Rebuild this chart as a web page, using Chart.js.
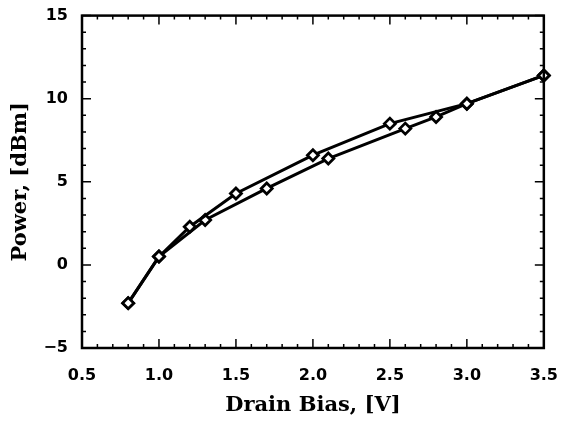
<!DOCTYPE html>
<html><head><meta charset="utf-8">
<script src="https://cdn.jsdelivr.net/npm/chart.js@4/dist/chart.umd.min.js"></script>
<style>html,body{margin:0;padding:0;background:#fff}#wrap{width:568px;height:424px}</style>
</head><body><div id="wrap"><canvas id="c" width="568" height="424"></canvas></div>
<script>
const biasA = [0.8, 1.0, 1.2, 1.5, 2.0, 2.5, 3.0, 3.5];
const powerA = [-2.3, 0.5, 2.3, 4.3, 6.6, 8.5, 9.7, 11.4];
const biasB = [0.8, 1.0, 1.3, 1.7, 2.1, 2.6, 2.8, 3.0, 3.5];
const powerB = [-2.3, 0.5, 2.7, 4.6, 6.4, 8.2, 8.9, 9.7, 11.4];
const xTicks = [0.5, 1.0, 1.5, 2.0, 2.5, 3.0, 3.5];
const yTicks = [-5, 0, 5, 10, 15];
const xTitle = 'Drain Bias, [V]';
const yTitle = 'Power, [dBm]';

const toPts = (xs, ys) => xs.map((x, i) => ({x, y: ys[i]}));

const inwardTicks = {
  id: 'inwardTicks',
  afterDatasetsDraw(chart) {
    const {ctx, chartArea: a, scales: {x, y}} = chart;
    ctx.save();
    ctx.strokeStyle = '#000';
    ctx.lineWidth = 1.5;
    ctx.beginPath();
    for (let i = 0; i <= 30; i++) {
      const v = 0.5 + i * 0.1;
      const px = x.getPixelForValue(v);
      const len = (i % 5 === 0) ? 9 : 4;
      ctx.moveTo(px, a.bottom); ctx.lineTo(px, a.bottom - len);
      ctx.moveTo(px, a.top); ctx.lineTo(px, a.top + len);
    }
    for (let i = 0; i <= 20; i++) {
      const v = -5 + i;
      const py = y.getPixelForValue(v);
      const len = (i % 5 === 0) ? 9 : 4;
      ctx.moveTo(a.left, py); ctx.lineTo(a.left + len, py);
      ctx.moveTo(a.right, py); ctx.lineTo(a.right - len, py);
    }
    ctx.stroke();
    ctx.lineWidth = 2.5;
    ctx.strokeRect(a.left, a.top, a.right - a.left, a.bottom - a.top);
    ctx.restore();
  }
};

const ds = (xs, ys) => ({
  data: toPts(xs, ys),
  borderColor: '#000',
  borderWidth: 3,
  pointStyle: 'rectRot',
  pointRadius: 5.5,
  pointBorderWidth: 2.8,
  pointBackgroundColor: '#fff',
  pointBorderColor: '#000',
  tension: 0,
  clip: false
});

new Chart(document.getElementById('c'), {
  type: 'line',
  data: { datasets: [ds(biasA, powerA), ds(biasB, powerB)] },
  plugins: [inwardTicks],
  options: {
    responsive: false,
    animation: false,
    layout: { padding: { left: 0, right: 13, top: 14, bottom: 0 } },
    plugins: { legend: { display: false }, tooltip: { enabled: false } },
    scales: {
      x: {
        type: 'linear', min: 0.5, max: 3.5,
        afterBuildTicks: s => { s.ticks = xTicks.map(v => ({value: v})); },
        afterFit: s => { s.height = 76; },
        grid: { display: false },
        border: { display: false },
        ticks: { color: '#000', padding: 10, font: { family: 'DejaVu Sans', weight: 'bold', size: 16 },
                 callback: v => v.toFixed(1) },
        title: { display: true, text: xTitle, color: '#000', padding: { top: 0, bottom: 6 },
                 font: { family: 'DejaVu Serif', weight: 'bold', size: 21 } }
      },
      y: {
        type: 'linear', min: -5, max: 15,
        afterBuildTicks: s => { s.ticks = yTicks.map(v => ({value: v})); },
        afterFit: s => { s.width = 82; },
        grid: { display: false },
        border: { display: false },
        ticks: { color: '#000', padding: 6, font: { family: 'DejaVu Sans', weight: 'bold', size: 16 },
                 callback: v => (v < 0 ? '\u2212' + Math.abs(v) : String(v)) },
        title: { display: true, text: yTitle, color: '#000', padding: { top: 8, bottom: 0 },
                 font: { family: 'DejaVu Serif', weight: 'bold', size: 21 } }
      }
    }
  }
});
</script></body></html>
